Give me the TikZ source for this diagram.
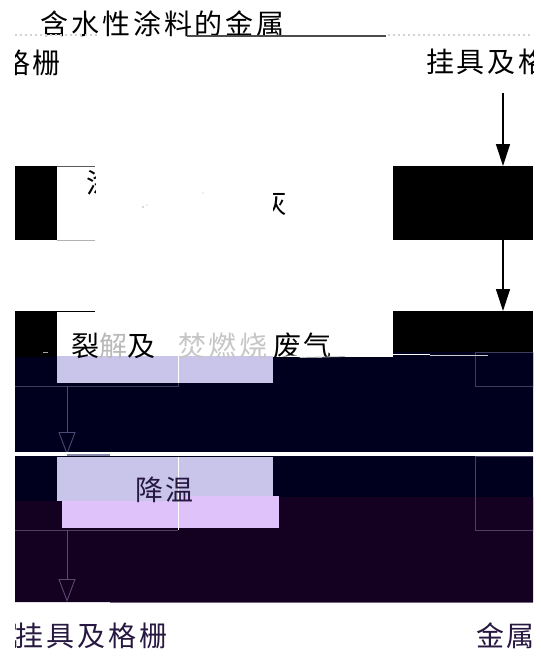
\documentclass[tikz,border=0pt]{standalone}
\usepackage{fontspec}
\usetikzlibrary{arrows.meta}
\newfontfamily\cjk[LetterSpace=10]{Noto Sans CJK SC}
\definecolor{navyd}{HTML}{00001E}
\definecolor{purpd}{HTML}{140020}
\definecolor{lavb}{HTML}{C8C4EA}
\definecolor{pinkb}{HTML}{E0C2FA}
\definecolor{lnavy}{HTML}{3C3C5E}
\definecolor{lpurp}{HTML}{4E3E64}
\definecolor{txtp}{HTML}{261840}
\definecolor{arrn}{HTML}{4A4A72}
\definecolor{arrp}{HTML}{5A4A72}
\definecolor{bandg}{HTML}{8888A8}
\begin{document}
\begin{tikzpicture}[x=1pt,y=-1pt,
  lbl/.style={font=\cjk\fontsize{28}{32}\selectfont, inner sep=0pt, outer sep=0pt, anchor=west},
  blk/.style={fill=black, draw=none, inner sep=0pt, outer sep=0pt},
  flat/.style={draw=none, inner sep=0pt, outer sep=0pt},
  fillarrow/.style={-{Triangle[length=22pt,width=14pt]}, line width=1.2pt},
  openarrow/.style={-{Triangle[open,length=23pt,width=17pt]}, line width=0.9pt},
]
\useasboundingbox (0,0) rectangle (541,657);
\fill[white] (0,0) rectangle (541,657);
\begin{scope}
\clip (15,0) rectangle (533,657);
% top texts
\node[lbl] (t1) at (41,24) {含水性涂料的金属};
\draw[gray!60!black, line width=2pt] (187,36) -- (386,36);
\draw[gray!35, line width=1.2pt, dash pattern=on 2pt off 3pt] (15,35) -- (100,35);
\draw[gray!35, line width=1.2pt, dash pattern=on 2pt off 3pt] (388,35) -- (533,35);
\node[lbl] (t2) at (2,63) {格栅};
\node[lbl] (t3) at (426,62) {挂具及格};
% right column
\coordinate (a0) at (503,93);
\node[blk, minimum width=140pt, minimum height=74pt] (r1) at (463,203) {};
\node[blk, minimum width=140pt, minimum height=41pt] (r2) at (463,331.5) {};
\draw[fillarrow] (a0) -- (a0 |- r1.north);
\draw[fillarrow] (a0 |- r1.south) -- (a0 |- r2.north);
% left row 1
\node[blk, minimum width=42pt, minimum height=74pt] (l1) at (36,203) {};
\draw[gray!70!black, line width=1pt] (l1.north east) -- ++(38,0);
\draw[gray!60, line width=1pt] (l1.south east) -- ++(38,0);
\begin{scope}
\clip (85,160) rectangle (95,200);
\node[lbl] (p1) at (86,183) {涂};
\end{scope}
\begin{scope}
\clip (273,185) rectangle (290,220);
\node[lbl] (p2) at (259,203) {灰};
\end{scope}
\fill[gray!60] (143,207) circle (0.8pt);
\fill[gray!60] (147,205) circle (0.6pt);
\fill[gray!60] (203,193) circle (0.7pt);
% left row 2
\node[blk, minimum width=42pt, minimum height=46pt] (l2) at (36,334) {};
\draw[black, line width=1pt] (l2.north east) -- ++(38,0);
% navy block
\fill[navyd] (15,357) -- (393,357) -- (393,352) -- (533,352) -- (533,452) -- (15,452) -- cycle;
\draw[gray!70, line width=.8pt] (43,352) -- (48,352);
\node[flat, fill=lavb, minimum width=216pt, minimum height=27pt] (lv1) at (165,369.5) {};
\draw[white, line width=1pt] (178,356) -- (178,383);
\draw[lnavy, line width=.8pt] (15,386) -- (178,386) -- (178,383);
\draw[lnavy, line width=.8pt] (475,352) rectangle (533,386);
% row 2 texts
\node[lbl] (k1) at (71,346) {裂\textcolor{gray!55}{解}及};
\node[lbl, text=gray!45] (k2) at (178,346) {焚燃烧};
\node[lbl] (k3) at (273,346) {废气};
\draw[white, line width=1.2pt] (282,356) -- (322,357);
\draw[white, line width=1pt] (336,354) -- (430,354);
\draw[gray!55, line width=.8pt] (300,357.5) -- (345,356.5);
\draw[gray!40, line width=.8pt] (430,355) -- (488,355);
% arrow 1 (open)
\coordinate (o1) at (67,386);
\coordinate (o2) at (67,455);
\draw[openarrow, arrn] (o1) -- (o2);
% white band
\fill[white] (15,452) rectangle (533,456);
\fill[bandg] (67,453.5) rectangle (110,456);
% lower blocks
\fill[navyd] (15,456) rectangle (533,501);
\fill[purpd] (57,497) -- (533,497) -- (533,602) -- (15,602) -- (15,501) -- (57,501) -- cycle;
\node[flat, fill=pinkb, minimum width=217pt, minimum height=32pt] (pk) at (170.5,512) {};
\node[flat, fill=lavb, minimum width=216pt, minimum height=39pt] (lv2) at (165,476.5) {};
\fill[lavb] (57,496) rectangle (178,501);
\draw[white, line width=1pt] (178,457) -- (178,530);
\node[lbl, text=txtp] (w1) at (135,490) {降温};
\draw[lpurp, line width=.8pt] (15,530) -- (178,530);
\draw[lpurp, line width=.8pt] (475,456) rectangle (533,530);
\coordinate (o3) at (67,530);
\coordinate (o4) at (67,602);
\draw[openarrow, arrp] (o3) -- (o4);
\draw[lpurp!80!white, line width=.8pt] (110,602) -- (533,602);
% bottom texts
\node[lbl, text=txtp] (b0) at (-9,636) {属};
\node[lbl, text=txtp] (b1) at (16,636) {挂具及格栅};
\node[lbl, text=txtp] (b2) at (476,636) {金属};
\end{scope}
\end{tikzpicture}
\end{document}
